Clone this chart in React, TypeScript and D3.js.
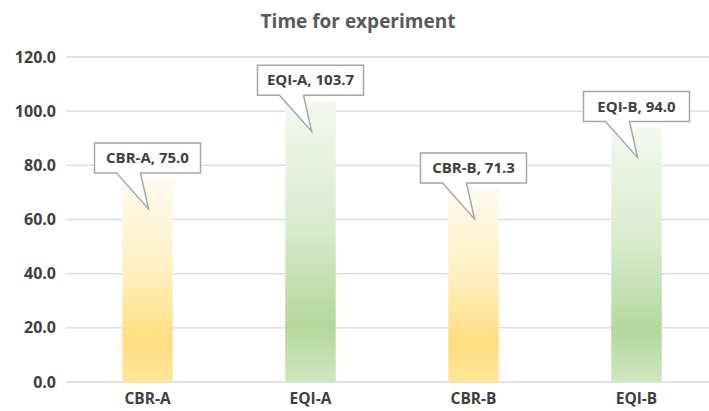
import React from 'react';
import * as d3 from 'd3';

const categories = ['CBR-A', 'EQI-A', 'CBR-B', 'EQI-B'];
const values = [75.0, 103.7, 71.3, 94.0];
const barKinds = ['yellow', 'green', 'yellow', 'green'];
const yTicks = [0, 20, 40, 60, 80, 100, 120];

const W = 709;
const H = 411;
const margin = { top: 57, right: -9, bottom: 29, left: 66 };
const FONT = "'Open Sans', 'Noto Sans', sans-serif";

export default function App() {
  const x = d3.scaleBand<string>()
    .domain(categories)
    .range([margin.left, W - margin.right])
    .paddingInner(0.69)
    .paddingOuter(0.345);

  const y = d3.scaleLinear()
    .domain([0, 120])
    .range([H - margin.bottom, margin.top]);

  const bw = x.bandwidth();

  return (
    <svg width={W} height={H} style={{ position: 'absolute', left: 0, top: 0, background: '#fff' }}>
      <defs>
        <linearGradient id="grad-yellow" x1="0" y1="0" x2="0" y2="1">
          <stop offset="0" stopColor="#fffaf0" />
          <stop offset="0.45" stopColor="#fff0c2" />
          <stop offset="0.8" stopColor="#ffde7e" />
          <stop offset="1" stopColor="#ffe69c" />
        </linearGradient>
        <linearGradient id="grad-green" x1="0" y1="0" x2="0" y2="1">
          <stop offset="0" stopColor="#f4f9f0" />
          <stop offset="0.45" stopColor="#d9ebcd" />
          <stop offset="0.8" stopColor="#b3d89c" />
          <stop offset="1" stopColor="#cfe7c0" />
        </linearGradient>
      </defs>

      <text x={358} y={28} textAnchor="middle" fontFamily={FONT} fontWeight="bold"
        fontSize={19} fill="#595959">Time for experiment</text>

      {yTicks.map(t => (
        <g key={t}>
          <line x1={margin.left} x2={W} y1={y(t)} y2={y(t)} stroke="#d9d9d9" strokeWidth={1.3} />
          <text x={56} y={y(t)} dy="0.35em" textAnchor="end" fontFamily={FONT}
            fontWeight="bold" fontSize={16} fill="#404040">{t.toFixed(1)}</text>
        </g>
      ))}

      {categories.map((c, i) => (
        <rect key={c} x={x(c)} y={y(values[i])} width={bw} height={y(0) - y(values[i])}
          fill={`url(#grad-${barKinds[i]})`} />
      ))}

      {categories.map(c => (
        <text key={c} x={x(c)! + bw / 2} y={404} textAnchor="middle" fontFamily={FONT}
          fontWeight="bold" fontSize={15.5} fill="#404040">{c}</text>
      ))}

      {categories.map((c, i) => {
        const cx = x(c)! + bw / 2;
        const top = y(values[i]);
        const label = `${c}, ${values[i].toFixed(1)}`;
        const bx = cx - 53;
        const bwid = 106;
        const by = top - 36;
        const bh = 30;
        const path = [
          `M${bx},${by}`,
          `H${bx + bwid}`,
          `V${by + bh}`,
          `H${bx + 46}`,
          `L${cx + 1},${top + 30}`,
          `L${bx + 22},${by + bh}`,
          `H${bx}`,
          'Z',
        ].join(' ');
        return (
          <g key={'lbl' + c}>
            <path d={path} fill="#fff" stroke="#a6a6a6" strokeWidth={1.5} />
            <text x={cx} y={by + bh / 2} dy="0.35em" textAnchor="middle" fontFamily={FONT}
              fontWeight="bold" fontSize={15} fill="#404040">{label}</text>
          </g>
        );
      })}
    </svg>
  );
}
